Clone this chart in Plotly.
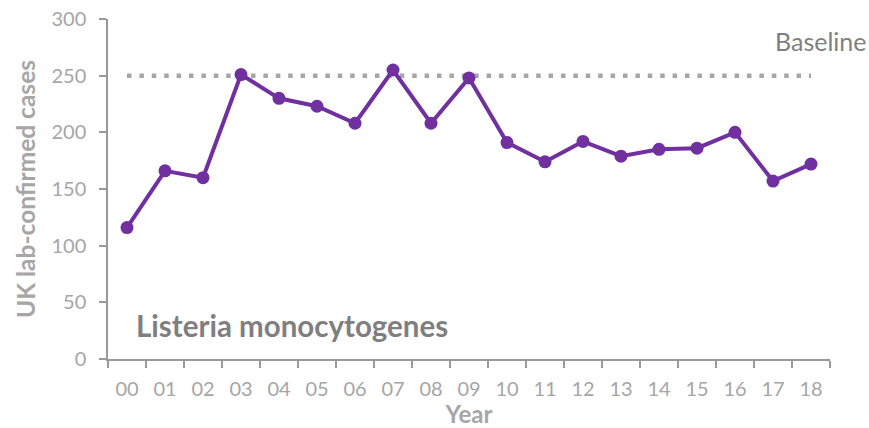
import plotly.graph_objects as go

years = ["00", "01", "02", "03", "04", "05", "06", "07", "08", "09",
         "10", "11", "12", "13", "14", "15", "16", "17", "18"]
cases = [116, 166, 160, 251, 230, 223, 208, 255, 208, 248,
         191, 174, 192, 179, 185, 186, 200, 157, 172]
baseline_value = 250
baseline_label = "Baseline"
organism_label = "Listeria monocytogenes"
y_ticks = [0, 50, 100, 150, 200, 250, 300]

FONT = "Lato"
PURPLE = "#7030a0"
GREY_LIGHT = "#a6a6a6"
GREY_DARK = "#7f7f7f"
AXIS = "#999999"

fig = go.Figure()

fig.add_trace(go.Scatter(
    x=[years[0], years[-1]],
    y=[baseline_value, baseline_value],
    mode="lines",
    line=dict(color=GREY_LIGHT, width=4.5, dash="4.5px,7.9px"),
    hoverinfo="skip",
    showlegend=False,
))

fig.add_trace(go.Scatter(
    x=years,
    y=cases,
    mode="lines+markers",
    line=dict(color=PURPLE, width=4),
    marker=dict(color=PURPLE, size=13),
    showlegend=False,
))

fig.add_annotation(
    text=baseline_label, xref="paper", yref="paper",
    x=(868 - 108) / 722, y=(359 - 41) / 340,
    xanchor="right", yanchor="middle", showarrow=False,
    font=dict(family=FONT, size=25, color=GREY_DARK),
)
fig.add_annotation(
    text="<b>" + organism_label + "</b>", xref="paper", yref="paper",
    x=(134 - 108) / 722, y=(359 - 325) / 340,
    xanchor="left", yanchor="middle", showarrow=False,
    font=dict(family=FONT, size=29.5, color=GREY_DARK),
)

fig.update_layout(
    width=869, height=428,
    margin=dict(l=108, r=39, t=19, b=69, autoexpand=False),
    plot_bgcolor="white", paper_bgcolor="white",
    font=dict(family=FONT, size=20, color=GREY_LIGHT),
    xaxis=dict(
        type="category", categoryorder="array", categoryarray=years,
        range=[-0.5, len(years) - 0.5], automargin=False,
        showgrid=False, zeroline=False,
        showline=True, linecolor=AXIS, linewidth=1.5,
        ticks="outside", tickson="boundaries", ticklen=7, tickcolor=AXIS, tickwidth=1.5,
        tickfont=dict(family=FONT, size=20, color=GREY_LIGHT),
        ticklabelstandoff=11,
        title=dict(text="<b>Year</b>", standoff=6,
                   font=dict(family=FONT, size=24, color=GREY_LIGHT)),
    ),
    yaxis=dict(
        range=[0, 300], tickvals=y_ticks, automargin=False,
        showgrid=False, zeroline=False,
        showline=True, linecolor=AXIS, linewidth=1.5,
        ticks="outside", ticklen=7, tickcolor=AXIS, tickwidth=1.5,
        tickfont=dict(family=FONT, size=20, color=GREY_LIGHT),
        ticklabelstandoff=9,
        title=dict(text="<b>UK lab-confirmed cases</b>", standoff=9,
                   font=dict(family=FONT, size=24.5, color=GREY_LIGHT)),
    ),
)

fig.write_html("out.html", post_script="document.body.style.margin='0';",
               config={"displayModeBar": False})
